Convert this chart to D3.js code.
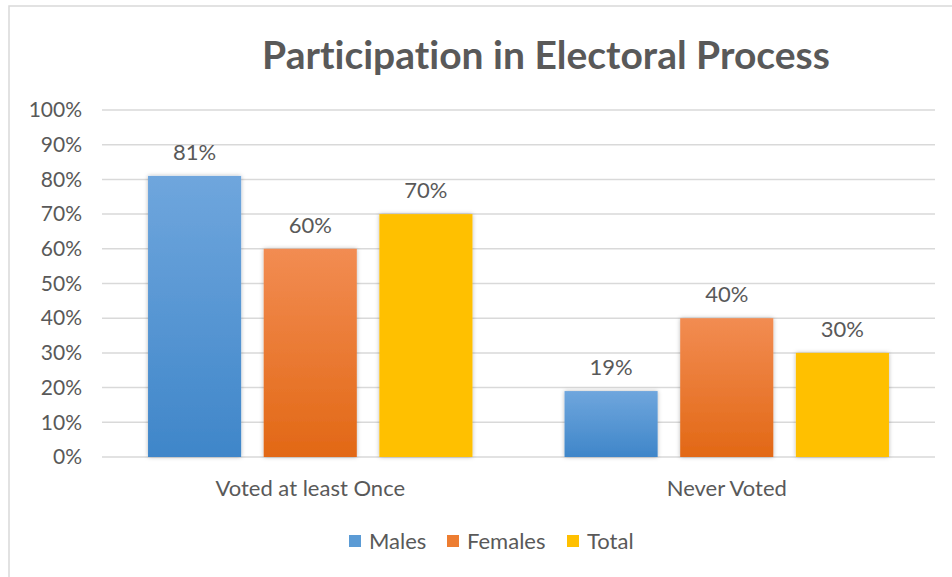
<!DOCTYPE html>
<html>
<head>
<meta charset="utf-8">
<script src="https://cdn.jsdelivr.net/npm/d3@7"></script>
<style>
  html, body { margin: 0; padding: 0; background: #fff; }
  svg { display: block; font-family: Lato, "Open Sans", sans-serif; font-variant-ligatures: none; font-feature-settings: "liga" 0, "dlig" 0; }
</style>
</head>
<body>
<svg id="chart" width="952" height="577"></svg>
<script>
// Chart data
const categories = ["Voted at least Once", "Never Voted"];
const seriesNames = ["Males", "Females", "Total"];
const males = [0.81, 0.19];
const females = [0.60, 0.40];
const total = [0.70, 0.30];
const yTicks = [0, 0.1, 0.2, 0.3, 0.4, 0.5, 0.6, 0.7, 0.8, 0.9, 1.0];
const titleText = "Participation in Electoral Process";

const seriesValues = [males, females, total];

const svg = d3.select("#chart");
const W = 952, H = 577;
const plot = { left: 102, right: 935, top: 110, bottom: 457 };
const textColor = "#595959";
const gridColor = "#D9D9D9";
const fontStack = "Lato, 'Open Sans', sans-serif";

// Colours: flat legend swatches and gradients for the bars
const palette = [
  { flat: "#5B9BD5", top: "#6FA6DD", bottom: "#3F86C9" },
  { flat: "#ED7D31", top: "#F28C52", bottom: "#E26815" },
  { flat: "#FFC000", top: "#FFC000", bottom: "#FFC000" }
];

const defs = svg.append("defs");
palette.forEach((p, i) => {
  const g = defs.append("linearGradient")
    .attr("id", "grad" + i)
    .attr("x1", 0).attr("y1", 0).attr("x2", 0).attr("y2", 1);
  g.append("stop").attr("offset", "0%").attr("stop-color", p.top);
  g.append("stop").attr("offset", "100%").attr("stop-color", p.bottom);
});
const shadow = defs.append("filter").attr("id", "shadow")
  .attr("x", "-20%").attr("y", "-10%").attr("width", "140%").attr("height", "120%");
shadow.append("feDropShadow")
  .attr("dx", 0).attr("dy", 0).attr("stdDeviation", 2.2)
  .attr("flood-color", "#000").attr("flood-opacity", 0.28);

// Chart frame
svg.append("rect")
  .attr("x", 9).attr("y", 6)
  .attr("width", W + 10).attr("height", H + 10)
  .attr("fill", "none").attr("stroke", gridColor).attr("stroke-width", 1.5);

// Title
svg.append("text")
  .attr("x", 546).attr("y", 69)
  .attr("text-anchor", "middle")
  .attr("fill", textColor)
  .attr("font-weight", "bold")
  .attr("font-size", 39)
  .text(titleText);

// Scales
const y = d3.scaleLinear().domain([0, 1]).range([plot.bottom, plot.top]);
const x0 = d3.scaleBand().domain(categories).range([plot.left, plot.right]).padding(0);
const x1 = d3.scaleBand().domain(seriesNames)
  .range([0, x0.bandwidth()])
  .paddingInner(0.195).paddingOuter(0.398);

// Gridlines
svg.append("g")
  .selectAll("line")
  .data(yTicks)
  .join("line")
  .attr("x1", plot.left).attr("x2", plot.right)
  .attr("y1", d => y(d)).attr("y2", d => y(d))
  .attr("stroke", gridColor).attr("stroke-width", 1.5);

// Y axis labels
const yAxis = d3.axisLeft(y).tickValues(yTicks).tickFormat(d3.format(".0%")).tickSize(0).tickPadding(20);
const yG = svg.append("g").attr("transform", `translate(${plot.left},0)`).call(yAxis);
yG.select(".domain").remove();
yG.selectAll("text").attr("fill", textColor).attr("font-size", 21).attr("font-family", fontStack);

// X axis labels
const xAxis = d3.axisBottom(x0).tickSize(0).tickPadding(23);
const xG = svg.append("g").attr("transform", `translate(0,${plot.bottom})`).call(xAxis);
xG.select(".domain").remove();
xG.selectAll("text").attr("fill", textColor).attr("font-size", 22).attr("font-family", fontStack);

// Bars
const groups = svg.append("g")
  .selectAll("g")
  .data(categories)
  .join("g")
  .attr("transform", d => `translate(${x0(d)},0)`);

const cells = groups.selectAll("g.cell")
  .data((c, ci) => seriesNames.map((s, si) => ({ series: s, si, value: seriesValues[si][ci] })))
  .join("g").attr("class", "cell");

cells.append("rect")
  .attr("x", d => x1(d.series))
  .attr("width", x1.bandwidth())
  .attr("y", d => y(d.value))
  .attr("height", d => y(0) - y(d.value))
  .attr("fill", d => `url(#grad${d.si})`)
  .attr("filter", "url(#shadow)");

cells.append("text")
  .attr("x", d => x1(d.series) + x1.bandwidth() / 2)
  .attr("y", d => y(d.value) - 16)
  .attr("text-anchor", "middle")
  .attr("fill", textColor)
  .attr("font-size", 22)
  .text(d => d3.format(".0%")(d.value));

// Legend
const legendItems = [
  { name: "Males", x: 349 },
  { name: "Females", x: 447 },
  { name: "Total", x: 567 }
];
const legend = svg.append("g");
legendItems.forEach((item, i) => {
  legend.append("rect")
    .attr("x", item.x).attr("y", 535)
    .attr("width", 12).attr("height", 12)
    .attr("fill", palette[i].flat);
  legend.append("text")
    .attr("x", item.x + 20).attr("y", 549)
    .attr("fill", textColor)
    .attr("font-size", 22)
    .text(item.name);
});
</script>
</body>
</html>
